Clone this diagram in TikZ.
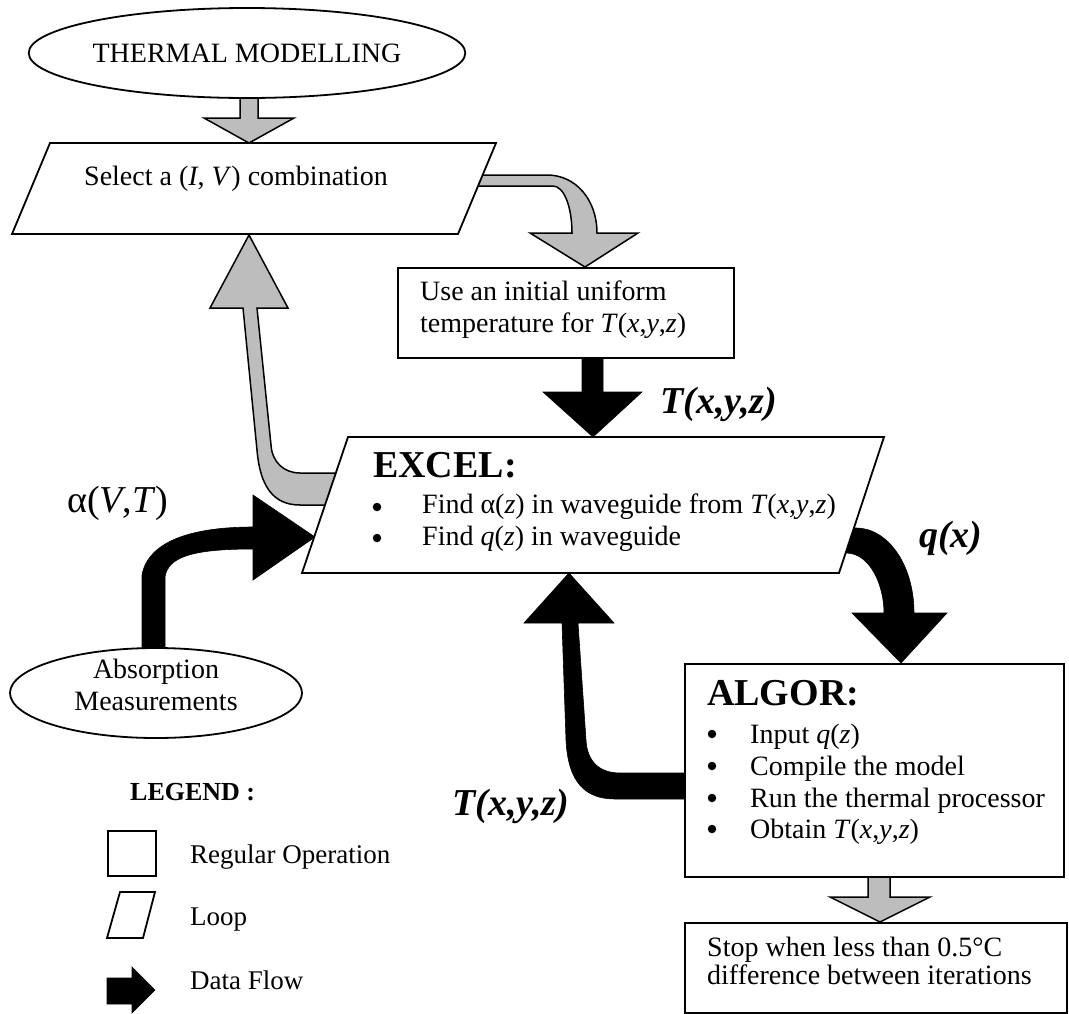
\documentclass[tikz,border=0pt]{standalone}
\usepackage{fontspec}
\setmainfont{Liberation Serif}
\usetikzlibrary{shapes.geometric}
\begin{document}
\begin{tikzpicture}[x=1pt,y=-1pt,
  outline/.style={draw=black,line width=1.8pt,line join=miter},
  boxshape/.style={outline,fill=white},
  grayarrow/.style={draw=black,line width=1.5pt,fill=black!26,line join=miter},
  blackarrow/.style={fill=black,draw=black,line width=0.6pt,line join=miter},
  body/.style={font=\fontsize{28}{32}\selectfont,inner sep=0pt},
  head/.style={font=\fontsize{38}{44}\selectfont\bfseries,inner sep=0pt},
  flowlabel/.style={font=\fontsize{38}{44}\selectfont\bfseries\itshape,inner sep=0pt},
  legendtext/.style={font=\fontsize{27}{32}\selectfont,inner sep=0pt,anchor=base west},
  bulletdot/.style={circle,fill=black,inner sep=0pt,minimum size=8.5pt},
]
\useasboundingbox (0,0) rectangle (1069,1013);

% corner points of the two loop (parallelogram) boxes
\coordinate (selTL) at (50,143);
\coordinate (selTR) at (496,143);
\coordinate (selBR) at (458,234);
\coordinate (selBL) at (12,234);
\coordinate (exTL) at (348,437);
\coordinate (exTR) at (884,437);
\coordinate (exBR) at (839,573);
\coordinate (exBL) at (302,573);

% points where the flow arrows end
\coordinate (selIn)  at (249,143);
\coordinate (selOut) at (249,235);
\coordinate (useIn)  at (585,267);
\coordinate (exIn)   at (593,437);
\coordinate (exInL)  at (315,537);
\coordinate (exInB)  at (569,573);
\coordinate (alIn)   at (901,663);
\coordinate (stopIn) at (880,922);

% ---------- flow arrows (drawn first, boxes cover their roots) ----------
% THERMAL MODELLING -> Select
\draw[grayarrow] (selIn) -- ++(45,-25) -- ++(-36,0) -- ++(0,-30) -- ++(-18,0)
  -- ++(0,30) -- ++(-36,0) -- cycle;

% Select -> initial temperature
\draw[grayarrow] (470,175) -- (547,175) .. controls (576,175) and (597,200) .. (597,233)
  -- (638,233) -- (useIn) -- (530,233) -- (572,233)
  .. controls (572,207) and (564,186) .. (553,186) -- (470,186) -- cycle;

% initial temperature -> EXCEL
\fill[blackarrow] (exIn) -- ++(49,-45) -- ++(-39,0) -- ++(0,-36) -- ++(-21,0)
  -- ++(0,36) -- ++(-39,0) -- cycle;

% EXCEL -> Select (loop back)
\draw[grayarrow] (345,473) -- (300,473) .. controls (284,473) and (272,462) .. (271,445)
  -- (257,308) -- (288,308) -- (selOut) -- (210,308) -- (243,308) -- (257,450)
  .. controls (260,486) and (273,505) .. (300,505) -- (345,505) -- cycle;

% Absorption Measurements -> EXCEL
\fill[blackarrow] (142,660) -- (142,575) .. controls (148,542) and (190,527) .. (253,527)
  -- (253,495) -- (exInL) -- (253,580) -- (253,549)
  .. controls (192,549) and (168,557) .. (165,577) -- (165,660) -- cycle;

% EXCEL -> ALGOR
\fill[blackarrow] (830,528) -- (856,528) .. controls (888,528) and (914,565) .. (914,613)
  -- (947,613) -- (alIn) -- (852,613) -- (884,613)
  .. controls (884,585) and (870,553) .. (846,553) -- (830,553) -- cycle;

% ALGOR -> EXCEL (loop back)
\fill[blackarrow] (700,773) -- (620,773) .. controls (598,773) and (587,760) .. (586,740)
  -- (578,623) -- (614,623) -- (exInB) -- (524,623) -- (562,623) -- (566,740)
  .. controls (568,782) and (585,799) .. (615,799) -- (700,799) -- cycle;

% ALGOR -> Stop
\draw[grayarrow] (stopIn) -- ++(50,-25) -- ++(-40,0) -- ++(0,-30) -- ++(-22,0)
  -- ++(0,30) -- ++(-38,0) -- cycle;

% ---------- boxes ----------
\node[boxshape,ellipse,minimum width=372pt,minimum height=90pt,body] (thermal) at (247,53) {THERMAL MODELLING};

\draw[boxshape] (selTL) -- (selTR) -- (selBR) -- (selBL) -- cycle;
\node[body,anchor=base west] (selText) at (84,185) {Select a (\textit{I}, \textit{V}) combination};

\node[boxshape,minimum width=336pt,minimum height=90pt,anchor=north west] (use) at (397,267) {};
\node[body,anchor=base west] (useL1) at (420,300) {Use an initial uniform};
\node[body,anchor=base west] (useL2) at (420,332) {temperature for \textit{T}(\textit{x},\textit{y},\textit{z})};

\node[flowlabel,anchor=base west] (lblT1) at (660,413) {T(x,y,z)};

\draw[boxshape] (exTL) -- (exTR) -- (exBR) -- (exBL) -- cycle;
\node[head,anchor=base west] (exHead) at (373,477) {EXCEL:};
\node[bulletdot] (exB1) at (377,507) {};
\node[bulletdot] (exB2) at (377,538) {};
\node[body,anchor=base west] (exL1) at (422,513) {Find α(\textit{z}) in waveguide from \textit{T}(\textit{x},\textit{y},\textit{z})};
\node[body,anchor=base west] (exL2) at (422,545) {Find \textit{q}(\textit{z}) in waveguide};

\node[font=\fontsize{38}{44}\selectfont,inner sep=0pt,anchor=base west] (lblA) at (67,512) {α(\textit{V},\textit{T})};
\node[flowlabel,anchor=base west] (lblq) at (919,547) {q(x)};

\node[boxshape,ellipse,minimum width=292pt,minimum height=90pt] (abs) at (156,693) {};
\node[body,anchor=base] (absL1) at (156,678) {Absorption};
\node[body,anchor=base] (absL2) at (156,710) {Measurements};

\node[boxshape,minimum width=379pt,minimum height=213pt,anchor=north west] (algor) at (684,663) {};
\node[head,anchor=base west] (alHead) at (707,705) {ALGOR:};
\foreach \yy/\txt [count=\i] in {743/{Input \textit{q}(\textit{z})},
                                 775/{Compile the model},
                                 807/{Run the thermal processor},
                                 838/{Obtain \textit{T}(\textit{x},\textit{y},\textit{z})}} {
  \node[bulletdot] (alB\i) at (712,\yy-9) {};
  \node[body,anchor=base west] (alL\i) at (750,\yy) {\txt};
}

\node[flowlabel,anchor=base west] (lblT2) at (452,815) {T(x,y,z)};

\node[boxshape,minimum width=382pt,minimum height=90pt,anchor=north west] (stop) at (684,922) {};
\node[body,anchor=base west] (stopL1) at (707,956) {Stop when less than 0.5°C};
\node[body,anchor=base west] (stopL2) at (707,984) {difference between iterations};

% ---------- legend ----------
\node[font=\fontsize{26}{30}\selectfont\bfseries,inner sep=0pt,anchor=base west] (legTitle) at (130,800) {LEGEND :};
\node[outline,minimum width=48pt,minimum height=45pt,anchor=north west] (legBox) at (107,830) {};
\node[legendtext] (legBoxText) at (190,863) {Regular Operation};
\draw[outline] (120,892) -- (155,892) -- (143,938) -- (107,938) -- cycle;
\node[legendtext] (legLoopText) at (190,925) {Loop};
\fill[blackarrow] (107,978) -- (132,978) -- (132,967) -- (155,990) -- (132,1013)
  -- (132,1004) -- (107,1004) -- cycle;
\node[legendtext] (legFlowText) at (190,989) {Data Flow};
\end{tikzpicture}
\end{document}
